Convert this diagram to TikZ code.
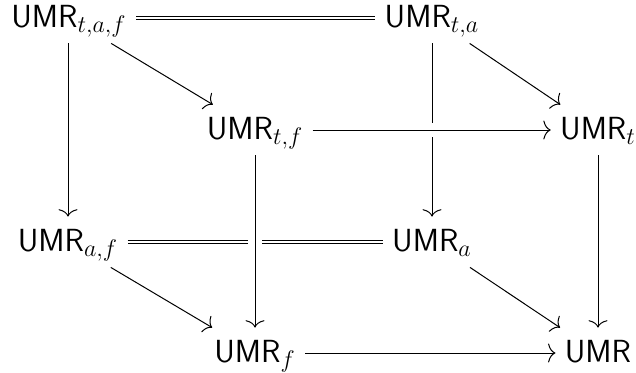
\documentclass[tikz,border=0pt]{standalone}
\usetikzlibrary{arrows.meta}
% slightly larger subscripts at the 16pt object size
\DeclareMathSizes{16}{16}{12.2}{9}
\begin{document}
\begin{tikzpicture}[x=0.5pt,y=-0.5pt,
  obj/.style={anchor=base, font=\fontsize{16}{19}\selectfont,
    text height=12pt, text depth=3pt, inner xsep=4.5pt, inner ysep=5pt},
  map/.style={draw, line width=0.5pt,
    -{Computer Modern Rightarrow[length=3.7pt,width=9.5pt]}},
  eq/.style={draw, line width=0.5pt, double, double distance=1.4pt},
  over/.style={preaction={draw=white, -, line width=7pt}}]
\useasboundingbox (0,0) rectangle (636,372);

% back face
\node[obj] (taf) at (69,27)  {\textsf{UMR}$_{t,a,f}$};
\node[obj] (ta)  at (432,27) {\textsf{UMR}$_{t,a}$};
\node[obj] (af)  at (68,251) {\textsf{UMR}$_{a,f}$};
\node[obj] (a)   at (432,251) {\textsf{UMR}$_{a}$};
% front face
\node[obj] (tf)  at (255,139) {\textsf{UMR}$_{t,f}$};
\node[obj] (t)   at (598,139) {\textsf{UMR}$_{t}$};
\node[obj] (f)   at (255,362) {\textsf{UMR}$_{f}$};
\node[obj] (u)   at (598,362) {\textsf{UMR}};

% edges behind
\draw[eq]  (taf) -- (ta);
\draw[map] (taf) -- (tf);
\draw[map] (taf.south -| af) -- (af);
\draw[map] (ta) -- (t);
\draw[map] (ta) -- (a);
\draw[eq]  (af) -- (a);
% edges crossing over
\draw[map, over] (tf) -- (t);
\draw[map, over] (tf) -- (f);
% remaining edges
\draw[map] (t) -- (u);
\draw[map] (af) -- (f);
\draw[map] (a) -- (u);
\draw[map] (f) -- (u);
\end{tikzpicture}
\end{document}
